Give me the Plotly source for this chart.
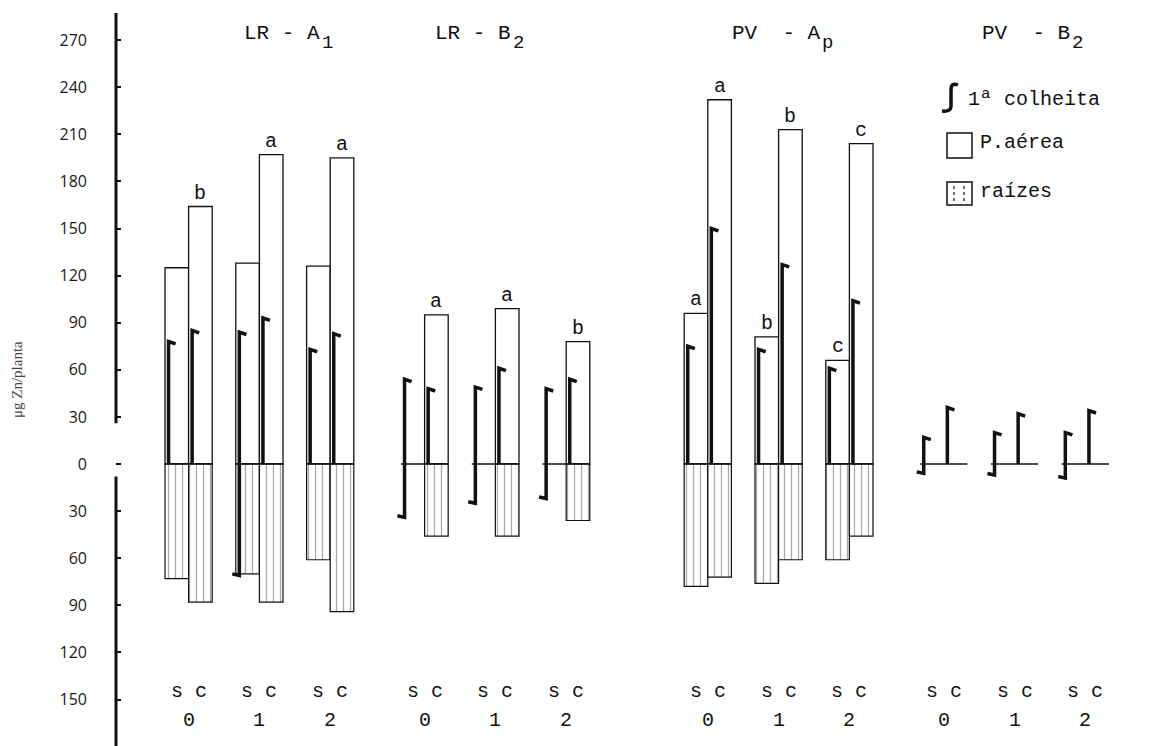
import plotly.graph_objects as go

# ---------------- data ----------------
groups = ["LR - A", "LR - B", "PV  - A", "PV  - B"]
group_subscripts = ["1", "2", "p", "2"]
doses = ["0", "1", "2"]
treatments = ["s", "c"]

# order inside every list: dose 0 (s, c), dose 1 (s, c), dose 2 (s, c)
p_aerea_lr_a1 = [125, 164, 128, 197, 126, 195]
p_aerea_lr_b2 = [None, 95, None, 99, None, 78]
p_aerea_pv_ap = [96, 232, 81, 213, 66, 204]
p_aerea_pv_b2 = [None, None, None, None, None, None]

raizes_lr_a1 = [73, 88, 70, 88, 61, 94]
raizes_lr_b2 = [None, 46, None, 46, None, 36]
raizes_pv_ap = [78, 72, 76, 61, 61, 46]
raizes_pv_b2 = [None, None, None, None, None, None]

colheita1_aerea_lr_a1 = [78, 85, 84, 93, 73, 83]
colheita1_aerea_lr_b2 = [54, 48, 49, 61, 48, 54]
colheita1_aerea_pv_ap = [75, 150, 73, 127, 61, 104]
colheita1_aerea_pv_b2 = [17, 36, 20, 32, 20, 34]

colheita1_raizes_lr_a1 = [None, None, 71, None, None, None]
colheita1_raizes_lr_b2 = [34, None, 25, None, 22, None]
colheita1_raizes_pv_ap = [None, None, None, None, None, None]
colheita1_raizes_pv_b2 = [6, None, 7, None, 9, None]

letras_lr_a1 = ["", "b", "", "a", "", "a"]
letras_lr_b2 = ["", "a", "", "a", "", "b"]
letras_pv_ap = ["a", "a", "b", "b", "c", "c"]
letras_pv_b2 = ["", "", "", "", "", ""]

y_tick_values = [270, 240, 210, 180, 150, 120, 90, 60, 30, 0, -30, -60, -90, -120, -150]
y_tick_labels = ["270", "240", "210", "180", "150", "120", "90", "60", "30", "0",
                 "30", "60", "90", "120", "150"]
y_title = "μg Zn/planta"
legend_labels = ["1ª colheita", "P.aérea", "raízes"]

p_aerea = [p_aerea_lr_a1, p_aerea_lr_b2, p_aerea_pv_ap, p_aerea_pv_b2]
raizes = [raizes_lr_a1, raizes_lr_b2, raizes_pv_ap, raizes_pv_b2]
c1_aerea = [colheita1_aerea_lr_a1, colheita1_aerea_lr_b2, colheita1_aerea_pv_ap, colheita1_aerea_pv_b2]
c1_raizes = [colheita1_raizes_lr_a1, colheita1_raizes_lr_b2, colheita1_raizes_pv_ap, colheita1_raizes_pv_b2]
letras = [letras_lr_a1, letras_lr_b2, letras_pv_ap, letras_pv_b2]

# ---------------- layout constants ----------------
W, H = 1164, 746
L_MARGIN = 116
SLOT_PX = 23.6          # width of one bar slot in pixels
X0_PX = 165             # pixel of slot 0
ZERO_PX = 464           # pixel of y = 0
Y_PX = 1.57             # pixels per unit of y
group_start_slot = [0, 10, 22, 32]
title_px = [242, 433, 730, 980]
TITLE_SIZE = 21
TYPE_FONT = "Liberation Mono"
INK = "#111111"

x_range = [(L_MARGIN - X0_PX) / SLOT_PX, (W - X0_PX) / SLOT_PX]
y_range = [-(H - ZERO_PX) / Y_PX, ZERO_PX / Y_PX]


def paper_x(px):
    return (px - L_MARGIN) / (W - L_MARGIN)


def paper_y(py):
    return 1 - py / H


# ---------------- build marks ----------------
shoot_x, shoot_y, root_x, root_y = [], [], [], []
c1_x, c1_y = [], []
base_x, base_y = [], []
annotations = []

for gi in range(len(groups)):
    for d in range(len(doses)):
        pair_slot = group_start_slot[gi] + 3 * d
        base_x += [pair_slot, pair_slot + 2, None]
        base_y += [0, 0, None]
        for t in range(len(treatments)):
            i = 2 * d + t
            slot = pair_slot + t
            xc = slot + 0.5
            if p_aerea[gi][i] is not None:
                shoot_x.append(xc)
                shoot_y.append(p_aerea[gi][i])
                if letras[gi][i]:
                    annotations.append(dict(x=xc, y=p_aerea[gi][i], xref="x", yref="y",
                                            text=letras[gi][i], showarrow=False,
                                            yanchor="bottom", xanchor="center",
                                            font=dict(family=TYPE_FONT, size=20, color=INK)))
            if raizes[gi][i] is not None:
                root_x.append(xc)
                root_y.append(-raizes[gi][i])
            # first harvest "integral" mark
            xl = slot + 0.15
            up = c1_aerea[gi][i]
            down = c1_raizes[gi][i]
            if up is not None:
                if down is not None:
                    c1_x += [xl - 0.3, xl]
                    c1_y += [-down + 1, -down]
                else:
                    c1_x += [xl]
                    c1_y += [0]
                c1_x += [xl, xl + 0.3, None]
                c1_y += [up, up - 1.5, None]
        # s c labels and dose label
        annotations.append(dict(x=pair_slot + 1, y=paper_y(691), xref="x", yref="paper",
                                text="s c", showarrow=False, xanchor="center", yanchor="middle",
                                font=dict(family=TYPE_FONT, size=20, color=INK)))
        annotations.append(dict(x=pair_slot + 1, y=paper_y(720), xref="x", yref="paper",
                                text=doses[d], showarrow=False, xanchor="center", yanchor="middle",
                                font=dict(family=TYPE_FONT, size=20, color=INK)))
    # group title, subscript typed half a line lower
    annotations.append(dict(x=paper_x(title_px[gi]), y=paper_y(33), xref="paper", yref="paper",
                            text=groups[gi], showarrow=False, xanchor="left", yanchor="middle",
                            font=dict(family=TYPE_FONT, size=TITLE_SIZE, color=INK)))
    sub_px = title_px[gi] + 2 + len(groups[gi]) * 0.6 * TITLE_SIZE
    annotations.append(dict(x=paper_x(sub_px), y=paper_y(43), xref="paper", yref="paper",
                            text=group_subscripts[gi], showarrow=False, xanchor="left",
                            yanchor="middle",
                            font=dict(family=TYPE_FONT, size=19, color=INK)))

fig = go.Figure()
fig.add_trace(go.Bar(x=shoot_x, y=shoot_y, base=0, width=1, name=legend_labels[1],
                     marker=dict(color="white", line=dict(color=INK, width=1.3)),
                     showlegend=False))
fig.add_trace(go.Bar(x=root_x, y=root_y, base=0, width=1, name=legend_labels[2],
                     marker=dict(color="white", line=dict(color=INK, width=1.2),
                                 pattern=dict(shape="|", fgcolor="#555555", bgcolor="white",
                                              size=7, solidity=0.18)),
                     showlegend=False))
fig.add_trace(go.Scatter(x=base_x, y=base_y, mode="lines",
                         line=dict(color=INK, width=1.5), showlegend=False, hoverinfo="skip"))
fig.add_trace(go.Scatter(x=c1_x, y=c1_y, mode="lines", name=legend_labels[0],
                         line=dict(color=INK, width=3.5), showlegend=False))

# y-axis title
annotations.append(dict(x=paper_x(17), y=paper_y(380), xref="paper", yref="paper",
                        text=y_title, textangle=-90, showarrow=False,
                        xanchor="center", yanchor="middle",
                        font=dict(family="Liberation Serif", size=15, color="#444444")))

# legend (drawn by hand)
annotations.append(dict(x=paper_x(966), y=paper_y(100), xref="paper", yref="paper",
                        text=legend_labels[0], showarrow=False, xanchor="left", yanchor="middle",
                        font=dict(family=TYPE_FONT, size=20, color=INK)))
annotations.append(dict(x=paper_x(978), y=paper_y(142), xref="paper", yref="paper",
                        text=legend_labels[1], showarrow=False, xanchor="left", yanchor="middle",
                        font=dict(family=TYPE_FONT, size=20, color=INK)))
annotations.append(dict(x=paper_x(978), y=paper_y(192), xref="paper", yref="paper",
                        text=legend_labels[2], showarrow=False, xanchor="left", yanchor="middle",
                        font=dict(family=TYPE_FONT, size=20, color=INK)))


def ppath(points):
    out = []
    for cmd, pts in points:
        coords = " ".join("%.5f,%.5f" % (paper_x(px), paper_y(py)) for px, py in pts)
        out.append(cmd + " " + coords)
    return " ".join(out)


shapes = []
shapes.append(dict(type="path", xref="paper", yref="paper",
                   path=ppath([("M", [(958, 85)]), ("Q", [(951, 82), (951, 90)]),
                               ("L", [(951, 106)]), ("Q", [(951, 112), (942, 111)])]),
                   line=dict(color=INK, width=3.5)))
shapes.append(dict(type="rect", xref="paper", yref="paper",
                   x0=paper_x(947), x1=paper_x(972), y0=paper_y(158), y1=paper_y(133),
                   line=dict(color=INK, width=1.5), fillcolor="white"))
shapes.append(dict(type="rect", xref="paper", yref="paper",
                   x0=paper_x(947), x1=paper_x(972), y0=paper_y(205), y1=paper_y(182),
                   line=dict(color=INK, width=1.5), fillcolor="white"))
for lx in (954, 964):
    shapes.append(dict(type="line", xref="paper", yref="paper",
                       x0=paper_x(lx), x1=paper_x(lx), y0=paper_y(186), y1=paper_y(201),
                       line=dict(color=INK, width=1.2, dash="dot")))
# broken vertical axis
shapes.append(dict(type="line", xref="paper", yref="y", x0=0, x1=0,
                   y0=26, y1=(ZERO_PX - 13) / Y_PX, line=dict(color=INK, width=3)))
shapes.append(dict(type="line", xref="paper", yref="y", x0=0, x1=0,
                   y0=-8, y1=y_range[0], line=dict(color=INK, width=3)))

fig.update_layout(
    width=W, height=H,
    margin=dict(l=L_MARGIN, r=0, t=0, b=0),
    paper_bgcolor="white", plot_bgcolor="white",
    barmode="overlay",
    showlegend=False,
    annotations=annotations,
    shapes=shapes,
    xaxis=dict(range=x_range, visible=False, fixedrange=True),
    yaxis=dict(range=y_range, tickvals=y_tick_values, ticktext=y_tick_labels,
               ticks="inside", ticklen=5, tickwidth=2, tickcolor=INK,
               showline=False, showgrid=False, zeroline=False,
               ticklabelstandoff=28,
               tickfont=dict(family="Open Sans", size=16, color="#1a1a1a"),
               fixedrange=True),
)

fig.write_html("out.html", config={"displayModeBar": False},
               post_script="document.body.style.margin='0px';document.body.style.overflow='hidden';")
